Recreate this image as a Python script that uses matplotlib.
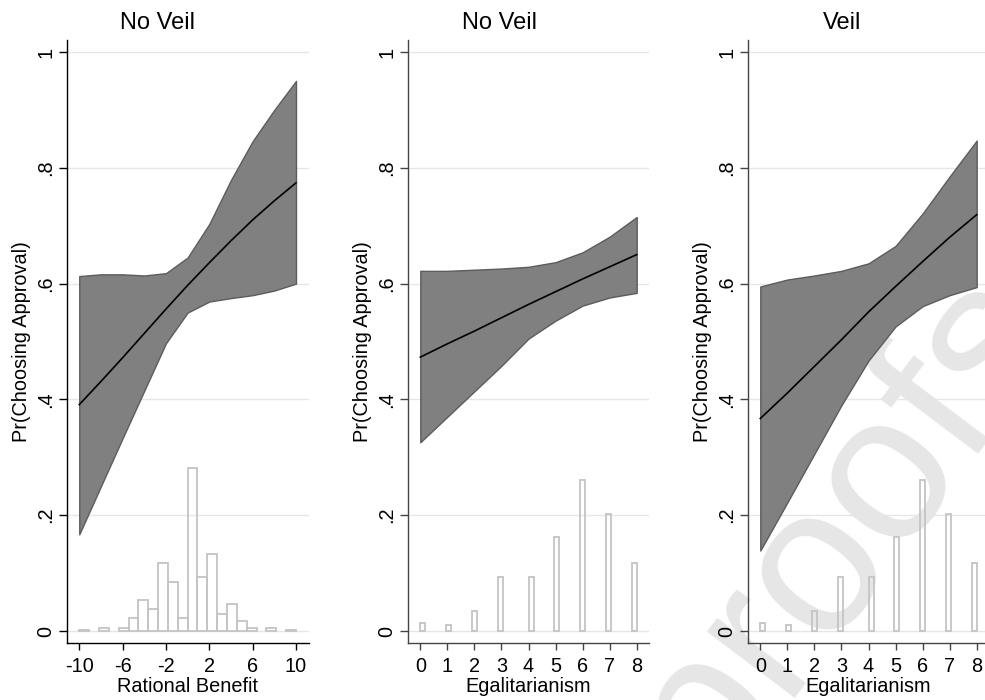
import numpy as np
import matplotlib
matplotlib.use("Agg")
import matplotlib.pyplot as plt

plt.rcParams['font.family'] = ['Liberation Sans', 'DejaVu Sans']
plt.rcParams['axes.unicode_minus'] = False

# --- panel 1: rational benefit (No Veil)
rb_x = [-10, -8, -6, -4, -2, 0, 2, 4, 6, 8, 10]
rb_pred = [0.391, 0.431, 0.472, 0.514, 0.556, 0.597, 0.636, 0.674, 0.710, 0.743, 0.774]
rb_hi = [0.613, 0.616, 0.616, 0.614, 0.618, 0.645, 0.703, 0.779, 0.846, 0.900, 0.950]
rb_lo = [0.167, 0.250, 0.333, 0.415, 0.497, 0.550, 0.569, 0.575, 0.580, 0.588, 0.600]
# share of respondents per histogram bin (22 bins between -10 and 10)
rb_share = [0.002, 0.0, 0.006, 0.0, 0.006, 0.022, 0.054, 0.038, 0.117, 0.085, 0.022,
            0.281, 0.093, 0.133, 0.029, 0.046, 0.017, 0.006, 0.0, 0.006, 0.0, 0.002]

# --- panel 2: egalitarianism (No Veil)
eg_x = [0, 1, 2, 3, 4, 5, 6, 7, 8]
nv_pred = [0.473, 0.496, 0.518, 0.541, 0.564, 0.586, 0.608, 0.629, 0.650]
nv_hi = [0.622, 0.622, 0.624, 0.626, 0.629, 0.637, 0.654, 0.681, 0.715]
nv_lo = [0.326, 0.370, 0.414, 0.458, 0.505, 0.536, 0.562, 0.576, 0.584]

# --- panel 3: egalitarianism (Veil)
v_pred = [0.367, 0.411, 0.457, 0.503, 0.551, 0.595, 0.638, 0.680, 0.719]
v_hi = [0.595, 0.607, 0.614, 0.622, 0.635, 0.665, 0.721, 0.785, 0.847]
v_lo = [0.139, 0.222, 0.306, 0.390, 0.467, 0.526, 0.561, 0.580, 0.594]

# share of respondents at each egalitarianism score
eg_share = [0.014, 0.010, 0.034, 0.0935, 0.0935, 0.162, 0.261, 0.2015, 0.118]

titles = ["No Veil", "No Veil", "Veil"]
xlabels = ["Rational Benefit", "Egalitarianism", "Egalitarianism"]
ylab = "Pr(Choosing Approval)"
yticks = [0, 0.2, 0.4, 0.6, 0.8, 1]
ytick_labels = ["0", ".2", ".4", ".6", ".8", "1"]

W, H = 985, 700
fig = plt.figure(figsize=(W / 100, H / 100), dpi=100)

# axes boxes in pixels: left, top, right, bottom
boxes = [(66.7, 40, 309, 643), (407.7, 40, 649.3, 643), (747.7, 40, 989.3, 643)]
title_x = [158, 500, 842]
spine_col = ["black", "#444444", "#444444"]

axes = []
for i, (l, t, r, b) in enumerate(boxes):
    ax = fig.add_axes([l / W, 1 - b / H, (r - l) / W, (b - t) / H])
    ax.set_facecolor("none")
    axes.append(ax)


def draw_panel(ax, x, pred, lo, hi):
    ax.fill_between(x, lo, hi, facecolor="#808080", edgecolor="#5c5c5c", linewidth=1.0, zorder=2)
    ax.plot(x, pred, color="black", linewidth=1.2, zorder=3)


def hist_panel(ax, vals, weights, nbins, rng):
    n, bins, patches = ax.hist(vals, bins=nbins, range=rng, weights=weights, histtype="bar",
                               fill=False, edgecolor="#c4c4c4", linewidth=1.3, zorder=2)
    for p in patches:
        if p.get_height() == 0:
            p.set_visible(False)


# panel 1
rb_edges = np.linspace(-10, 10, 23)
rb_mid = (rb_edges[:-1] + rb_edges[1:]) / 2
draw_panel(axes[0], rb_x, rb_pred, rb_lo, rb_hi)
hist_panel(axes[0], rb_mid, rb_share, 22, (-10, 10))
axes[0].set_xlim(-11.16, 11.2)
axes[0].set_xticks([-10, -6, -2, 2, 6, 10])

# panel 2 and 3
draw_panel(axes[1], eg_x, nv_pred, nv_lo, nv_hi)
hist_panel(axes[1], eg_x, eg_share, 42, (0, 8))
draw_panel(axes[2], eg_x, v_pred, v_lo, v_hi)
hist_panel(axes[2], eg_x, eg_share, 42, (0, 8))
for ax in axes[1:]:
    ax.set_xlim(-0.466, 8.466)
    ax.set_xticks(eg_x)

for i, ax in enumerate(axes):
    l, t, r, b = boxes[i]
    ax.set_ylim(-0.0207, 1.0207)
    ax.set_yticks(yticks)
    ax.set_yticklabels(ytick_labels)
    ax.yaxis.grid(True, color="#e6e6e6", linewidth=1.0)
    ax.set_axisbelow(True)
    for s in ["top", "right"]:
        ax.spines[s].set_visible(False)
    for s in ["left", "bottom"]:
        ax.spines[s].set_color(spine_col[i])
        ax.spines[s].set_linewidth(1.0)
    ax.tick_params(axis="y", labelrotation=90, length=6, width=1.0, color=spine_col[i],
                   labelsize=14.3, pad=2)
    ax.tick_params(axis="x", length=5, width=1.0, color=spine_col[i], labelsize=14.3, pad=5)
    for lab in ax.get_yticklabels():
        lab.set_va("center")
    fig.text(title_x[i] / W, 1 - 23 / H, titles[i], ha="center", va="center", fontsize=17)
    fig.text((l - 45) / W, 1 - ((t + b) / 2) / H, ylab, rotation=90, ha="center", va="center",
             fontsize=14.3)
    fig.text((l + r) / 2 / W, 1 - 686 / H, xlabels[i], ha="center", va="center",
             fontsize=14.3)

# watermark behind the panels
fig.text(843 / W, 1 - 526 / H, "proofs", rotation=53, ha="center", va="center",
         fontsize=150, color="#e6e6e6", zorder=-1)

fig.savefig("out.png", dpi=100)
